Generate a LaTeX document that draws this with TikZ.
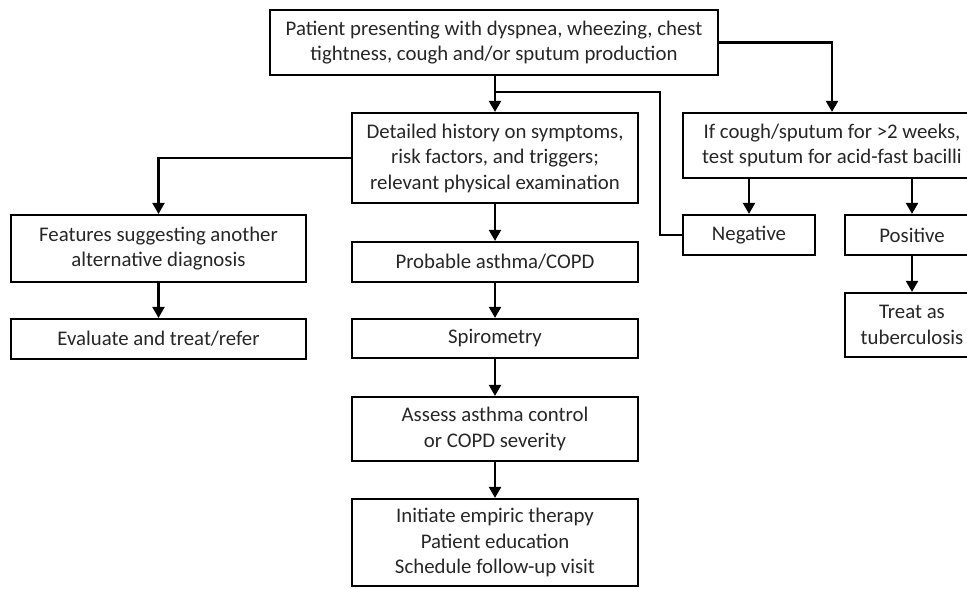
\documentclass[tikz,border=0pt]{standalone}
\usepackage{fontspec}
\setmainfont{Carlito}
\usetikzlibrary{arrows.meta}
\definecolor{txt}{HTML}{262626}
\begin{document}
\begin{tikzpicture}[x=1pt,y=-1pt,
  box/.style={draw=black,line width=2.2pt,inner sep=0pt,align=center,
    text=txt,font=\fontsize{20.8}{25.5}\selectfont},
  link/.style={draw=black,line width=2.2pt},
  arr/.style={link,-{Triangle[length=11pt,width=12pt]}}]
\useasboundingbox (0,0) rectangle (967,589);

% main column
\node[box,minimum width=448pt,minimum height=65pt] (top) at (494,42.5)
  {Patient presenting with dyspnea, wheezing, chest\\tightness, cough and/or sputum production};
\node[box,minimum width=286pt,minimum height=90pt] (det) at (495,158)
  {Detailed history on symptoms,\\risk factors, and triggers;\\relevant physical examination};
\node[box,minimum width=286pt,minimum height=40pt] (prob) at (495,262)
  {Probable asthma/COPD};
\node[box,minimum width=286pt,minimum height=39pt] (spiro) at (495,338.5)
  {Spirometry};
\node[box,minimum width=286pt,minimum height=64pt] (assess) at (495,429)
  {Assess asthma control\\or COPD severity};
\node[box,minimum width=286pt,minimum height=87pt] (init) at (495,542.5)
  {Initiate empiric therapy\\Patient education\\Schedule follow-up visit};

% left column
\node[box,minimum width=295pt,minimum height=67pt] (feat) at (158.5,248.5)
  {Features suggesting another\\alternative diagnosis};
\node[box,minimum width=295pt,minimum height=40pt] (eval) at (158.5,339)
  {Evaluate and treat/refer};

% right column
\node[box,minimum width=298pt,minimum height=65pt] (ifb) at (832,145.5)
  {If cough/sputum for >2 weeks,\\test sputum for acid-fast bacilli};
\node[box,minimum width=132pt,minimum height=40pt] (neg) at (749,235)
  {Negative};
\node[box,minimum width=134pt,minimum height=40pt] (pos) at (912,235)
  {Positive};
\node[box,minimum width=134pt,minimum height=64pt] (treat) at (912,325)
  {Treat as\\tuberculosis};

% connectors
\draw[arr] (top.south -| det.north) -- (det.north);
\coordinate (split) at (495,92);
\coordinate (bend) at (660,92);
\draw[link] (split) -- (bend) |- (neg.west);
\draw[arr] (top.east) -| (ifb.north);
\draw[arr] (det.west) -| (feat.north);
\draw[arr] (feat) -- (eval);
\draw[arr] (det) -- (prob);
\draw[arr] (prob) -- (spiro);
\draw[arr] (spiro) -- (assess);
\draw[arr] (assess) -- (init);
\draw[arr] (neg.north |- ifb.south) -- (neg.north);
\draw[arr] (pos.north |- ifb.south) -- (pos.north);
\draw[arr] (pos) -- (treat);
\end{tikzpicture}
\end{document}
